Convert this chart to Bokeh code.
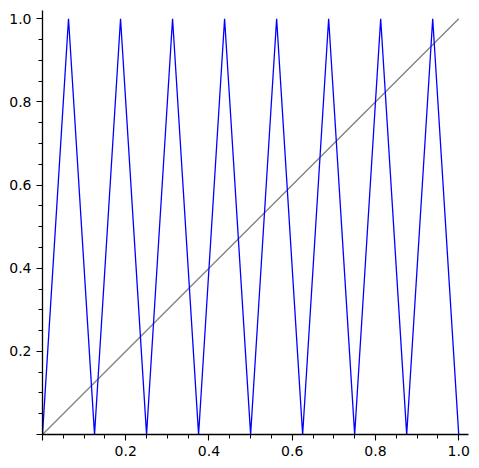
from bokeh.plotting import figure
from bokeh.models import FixedTicker, Range1d
from bokeh.embed import file_html
from bokeh.resources import INLINE

# tent-map iterate vertices
tent_x = [0.0, 0.0625, 0.125, 0.1875, 0.25, 0.3125, 0.375, 0.4375, 0.5,
          0.5625, 0.625, 0.6875, 0.75, 0.8125, 0.875, 0.9375, 1.0]
tent_y = [0, 1, 0, 1, 0, 1, 0, 1, 0, 1, 0, 1, 0, 1, 0, 1, 0]
diag_x = [0.0, 1.0]
diag_y = [0.0, 1.0]
major_ticks = [0.0, 0.2, 0.4, 0.6, 0.8, 1.0]
minor_ticks = [0.05, 0.1, 0.15, 0.25, 0.3, 0.35, 0.45, 0.5, 0.55, 0.65, 0.7,
               0.75, 0.85, 0.9, 0.95]
tick_labels = {0.0: "", 0.2: "0.2", 0.4: "0.4", 0.6: "0.6", 0.8: "0.8", 1.0: "1.0"}

p = figure(output_backend="svg", toolbar_location=None,
           frame_width=426, frame_height=424,
           x_range=Range1d(0, 1.0235), y_range=Range1d(0, 1.02),
           min_border_left=42, min_border_top=10, min_border_right=11,
           min_border_bottom=30)
p.outline_line_color = None
p.grid.visible = False
p.background_fill_color = "white"
p.border_fill_color = "white"

p.line(diag_x, diag_y, line_color="#808080", line_width=1.3)
p.line(tent_x, tent_y, line_color="#0000ff", line_width=1.3)

for ax in (p.xaxis[0], p.yaxis[0]):
    ax.ticker = FixedTicker(ticks=major_ticks, minor_ticks=minor_ticks)
    ax.major_label_overrides = tick_labels
    ax.axis_line_color = "black"
    ax.axis_line_width = 1.3
    ax.major_tick_line_width = 1.1
    ax.minor_tick_line_width = 1.0
    ax.major_tick_in = 0
    ax.major_tick_out = 6
    ax.minor_tick_in = 0
    ax.minor_tick_out = 4
    ax.major_label_text_font = "DejaVu Sans"
    ax.major_label_text_font_size = "14px"
    ax.major_label_text_color = "black"
    ax.major_label_standoff = 5

file = open("out.html", "w")
file.write(file_html(p, INLINE))
file.close()
